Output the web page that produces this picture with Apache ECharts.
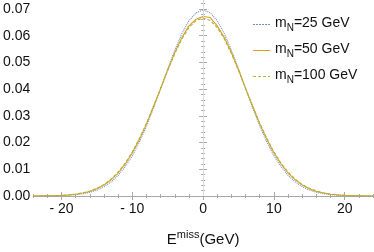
<!DOCTYPE html>
<html>
<head>
<meta charset="utf-8">
<script src="https://cdn.jsdelivr.net/npm/echarts@6/dist/echarts.min.js"></script>
<style>
  html, body { margin: 0; padding: 0; background: #fff; }
  #chart { width: 374px; height: 252px; }
</style>
</head>
<body>
<div id="chart"></div>
<script>
var energies = [-24,-23,-22,-21,-20,-19,-18,-17,-16,-15,-14,-13,-12,-11,-10,-9,-8,-7,-6,-5,-4,-3,-2,-1,0,
    1,2,3,4,5,6,7,8,9,10,11,12,13,14,15,16,17,18,19,20,21,22,23,24];

var mN25 = [0.00001,0.00002,0.00004,0.00008,0.00016,0.00028,0.00049,0.00085,0.0014,0.0022,0.0035,0.0053,
    0.0077,0.0110,0.0151,0.0202,0.0262,0.0330,0.0402,0.0476,0.0546,0.0608,0.0656,0.0686,0.0697,
    0.0686,0.0656,0.0608,0.0546,0.0476,0.0402,0.0330,0.0262,0.0202,0.0151,0.0110,0.0077,0.0053,
    0.0035,0.0022,0.0014,0.00085,0.00049,0.00028,0.00016,0.00008,0.00004,0.00002,0.00001];

var mN50 = [0.00002,0.00003,0.00007,0.00013,0.00022,0.00039,0.00066,0.0011,0.0017,0.0027,0.0041,0.0061,
    0.0086,0.0120,0.0162,0.0212,0.0270,0.0335,0.0403,0.0472,0.0537,0.0593,0.0637,0.0662,0.0672,
    0.0668,0.0637,0.0593,0.0537,0.0472,0.0403,0.0335,0.0270,0.0212,0.0162,0.0120,0.0086,0.0061,
    0.0041,0.0027,0.0017,0.0011,0.00066,0.00039,0.00022,0.00013,0.00007,0.00003,0.00002];

var mN100 = [0.00002,0.00004,0.00008,0.00014,0.00025,0.00044,0.00073,0.0012,0.0019,0.0029,0.0043,0.0063,
    0.0090,0.0123,0.0165,0.0216,0.0273,0.0337,0.0403,0.0470,0.0533,0.0588,0.0630,0.0657,0.0666,
    0.0657,0.0630,0.0588,0.0533,0.0470,0.0403,0.0337,0.0273,0.0216,0.0165,0.0123,0.0090,0.0063,
    0.0043,0.0029,0.0019,0.0012,0.00073,0.00044,0.00025,0.00014,0.00008,0.00004,0.00002];

var seriesNames = ['25', '50', '100'];
var xMajor = [-20, -10, 0, 10, 20];
var xMinor = [-24,-22,-18,-16,-14,-12,-8,-6,-4,-2,2,4,6,8,12,14,16,18,22,24];
var yMajor = [0, 0.01, 0.02, 0.03, 0.04, 0.05, 0.06, 0.07];
var yMinor = [0.002,0.004,0.006,0.008,0.012,0.014,0.016,0.018,0.022,0.024,0.026,0.028,0.032,0.034,0.036,0.038,
    0.042,0.044,0.046,0.048,0.052,0.054,0.056,0.058,0.062,0.064,0.066,0.068,0.072];

var frameColor = '#a8a8a8';
var font = 'Liberation Sans, Arial, sans-serif';

function pairs(vals) {
    return energies.map(function (e, i) { return [e, vals[i]]; });
}

// legend icon: a thin line made of dash pieces (on/off lengths)
function dashIcon(on, off) {
    var p = 'path://';
    for (var x = 0; x < 17; x += on + off) {
        var w = Math.min(on, 17 - x);
        p += 'M' + x + ',0h' + w + 'v1h-' + w + 'z';
    }
    return p;
}

function xAx(pos, ticks, len, labels, line) {
    return {
        type: 'value', position: pos, min: -24, max: 24,
        axisLine: {show: line, lineStyle: {color: frameColor, width: 1}},
        axisTick: {show: true, inside: true, length: len, customValues: ticks, lineStyle: {color: frameColor}},
        axisLabel: labels ? {
            show: true, customValues: ticks, color: '#111', fontSize: 14, fontFamily: font, margin: 6,
            formatter: function (v) { return v < 0 ? '- ' + (-v) : String(v); }
        } : {show: false},
        splitLine: {show: false}
    };
}

function yAx(pos, ticks, len, labels, line) {
    return {
        type: 'value', position: pos, min: 0, max: 0.073,
        axisLine: {show: line, lineStyle: {color: frameColor, width: 1}},
        axisTick: {show: true, inside: true, length: len, customValues: ticks, lineStyle: {color: frameColor}},
        axisLabel: labels ? {
            show: true, customValues: ticks, color: '#111', fontSize: 14, fontFamily: font, margin: 3,
            formatter: function (v) { return v.toFixed(2); }
        } : {show: false},
        splitLine: {show: false}
    };
}

var chart = echarts.init(document.getElementById('chart'));

var bottomAxis = xAx('bottom', xMajor, 4, true, true);
bottomAxis.name = '{e|E}{s|miss}{e|(GeV)}';
bottomAxis.nameLocation = 'middle';
bottomAxis.nameGap = 33;
bottomAxis.nameTextStyle = {
    rich: {
        e: {fontSize: 15, fontFamily: font, color: '#111', lineHeight: 18, verticalAlign: 'bottom'},
        s: {fontSize: 11, fontFamily: font, color: '#111', lineHeight: 18, verticalAlign: 'top'}
    }
};

var colors = ['#6F8FC2', '#E19C24', '#A9B83A'];
var dashes = [[1, 1], 'solid', [3, 2]];
var icons = [dashIcon(2, 1), dashIcon(17, 0), dashIcon(3, 2)];
var values = [mN25, mN50, mN100];

var series = values.map(function (v, i) {
    var s = {
        name: seriesNames[i],
        type: 'line',
        data: pairs(v),
        showSymbol: false,
        symbol: 'none',
        color: colors[i],
        lineStyle: {color: colors[i], width: 1.1, type: dashes[i]},
        z: 3 + i
    };
    if (i === 0) {
        s.markLine = {
            silent: true, symbol: 'none', label: {show: false},
            lineStyle: {color: '#dcdcdc', type: 'solid', width: 1},
            data: [{xAxis: 0}]
        };
    }
    return s;
});

chart.setOption({
    animation: false,
    backgroundColor: '#fff',
    grid: {left: 31, right: 1, top: 1, bottom: 41},
    legend: {
        orient: 'vertical',
        left: 248,
        top: 11,
        itemWidth: 17,
        itemHeight: 13,
        itemGap: 9,
        itemStyle: {borderWidth: 0},
        data: seriesNames.map(function (n, i) {
            return {name: n, icon: icons[i], itemStyle: {color: colors[i], borderWidth: 0}};
        }),
        formatter: function (name) {
            return '{m|m}{n|N}{m|=' + name + ' GeV}';
        },
        textStyle: {
            rich: {
                m: {fontSize: 14, fontFamily: font, color: '#111', lineHeight: 17, verticalAlign: 'top'},
                n: {fontSize: 10, fontFamily: font, color: '#111', lineHeight: 17, verticalAlign: 'bottom'}
            }
        }
    },
    xAxis: [
        bottomAxis,
        xAx('bottom', xMinor, 2, false, false),
        xAx('top', xMajor, 4, false, true),
        xAx('top', xMinor, 2, false, false)
    ],
    yAxis: [
        yAx('left', yMajor, 4, true, true),
        yAx('left', yMinor, 2, false, false),
        yAx('right', yMajor, 4, false, true),
        yAx('right', yMinor, 2, false, false)
    ],
    series: series
});
</script>
</body>
</html>
